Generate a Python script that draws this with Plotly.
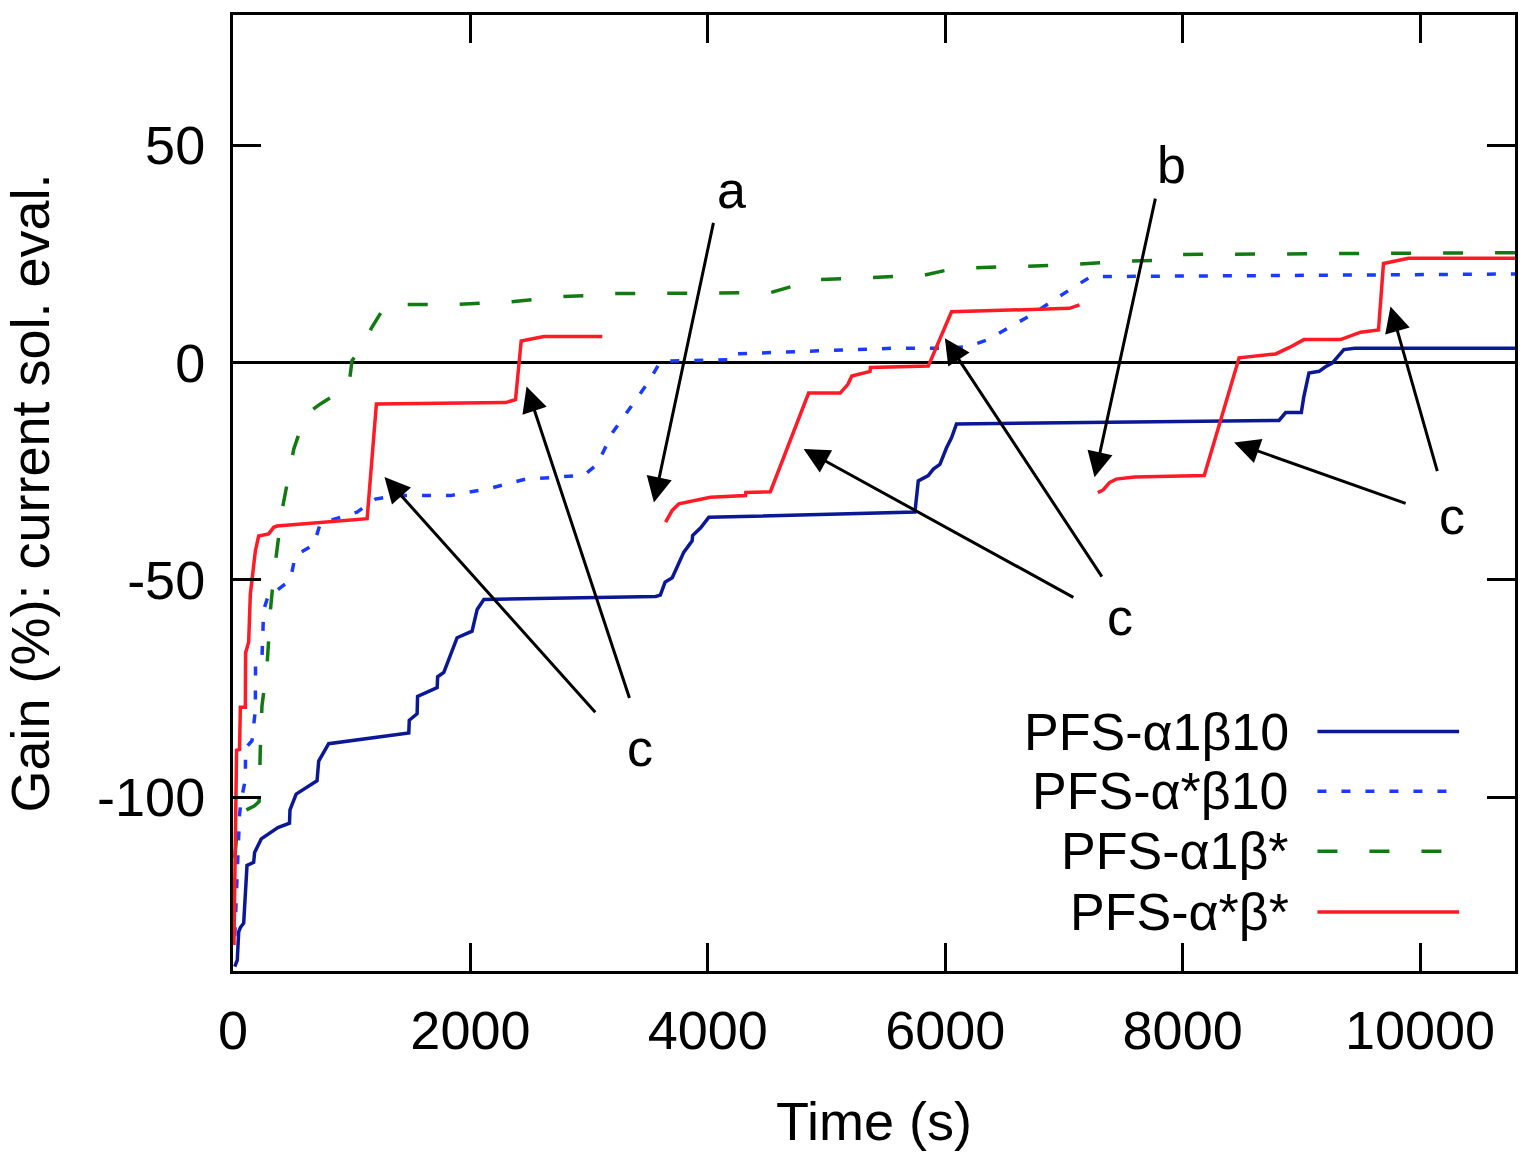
import plotly.graph_objects as go

# ---------------- data ----------------
x_a1b10 = [15, 36, 48, 62, 90, 112, 118, 174, 182, 238, 378, 476, 480, 532, 708, 722, 806,
           1481, 1485, 1551, 1555, 1720, 1724, 1776, 1888, 2014, 2057, 2113, 3560, 3600, 3640,
           3700, 3770, 3798, 3868, 3872, 3940, 4008, 5745, 5760, 5773, 5857, 5900, 5955, 6011,
           6053, 6095, 8812, 8868, 9000, 9020, 9064, 9150, 9200, 9260, 9358, 9450, 10800]
y_a1b10 = [-139, -137.5, -131, -130, -129, -116, -115.7, -115, -112.7, -109.6, -107, -106,
           -102.9, -99.3, -96.2, -91.7, -87.7, -85.2, -82.3, -80.8, -76.8, -74.8, -72.3, -71.3,
           -63.3, -61.8, -56.8, -54.5, -53.8, -53.5, -50.5, -49.5, -45.5, -43.6, -41, -39.8,
           -38, -35.6, -34.4, -30, -27.2, -26.0, -24.5, -23.4, -19.6, -17.3, -14.1, -13.3,
           -11.5, -11.5, -8, -2.4, -2, -1, -0.1, 3.0, 3.3, 3.3]

x_asb10 = [15, 30, 40, 55, 70, 104, 106, 160, 188, 190, 244, 258, 300, 343, 483, 525, 680, 736,
           1045, 1200, 1383, 1832, 2169, 2450, 2956, 3068, 3200, 3406, 3504, 3602, 4190, 4204,
           5549, 6011, 6193, 6361, 6725, 7090, 7227, 8500, 10800]
y_asb10 = [-132, -121, -113, -104, -100.5, -96, -88.7, -87, -80, -69, -68, -57, -53.3, -53,
           -50, -44.4, -41.9, -37, -34.4, -31.4, -30.6, -30.6, -28.9, -26.9, -25.9, -23.4, -16,
           -8, -4.3, 0.3, 0.7, 2.0, 3.3, 3.3, 3.7, 5.3, 11, 17.5, 19.8, 20.0, 20.4]

x_a1bs = [15, 40, 70, 182, 220, 225, 230, 244, 286, 300, 315, 343, 371, 413, 441, 511, 610,
          736, 975, 1003, 1109, 1165, 1289, 1893, 2342, 2762, 3126, 3196, 4527, 4793, 4849,
          5815, 6081, 6599, 6950, 7552, 7846, 7986, 10800]
y_a1bs = [-114, -106, -103.5, -102, -101, -94, -89, -79, -70, -64, -57, -49, -43, -34, -30,
          -20, -12, -9.5, -5.5, 0.5, 4.1, 7.9, 13.4, 13.4, 14.0, 15.2, 15.6, 15.9, 16.1, 18.2,
          19.0, 20.1, 21.7, 22.2, 22.4, 23.4, 23.6, 24.9, 25.3]

# PFS-a*b* is made of three separate runs (None = gap)
x_asbs = [8, 18, 30, 55, 62, 104, 106, 132, 146, 188, 216, 300, 343, 371, 1130, 1208, 2296,
          2380, 2428, 2619, 3111, None,
          3644, 3700, 3756, 3882, 4022, 4317, 4320, 4527, 4849, 5115, 5180, 5213, 5367, 5370,
          5857, 6053, 6599, 7047, 7131, None,
          7286, 7330, 7384, 7440, 7594, 8182, 8476, 8784, 8900, 9022, 9330, 9500, 9650, 9692,
          9902, 10800]
y_asbs = [-134, -110, -89.2, -89, -79.3, -79.3, -66.8, -64.3, -53.3, -43.4, -39.9, -39.4,
          -37.9, -37.6, -35.9, -9.5, -9.2, -8.5, 5.0, 6.0, 6.0, None,
          -36.7, -34, -32.5, -31.8, -31.0, -30.6, -29.9, -29.7, -7.0, -7.0, -5, -3.1, -2.0,
          -1.1, -0.8, 11.7, 12.1, 12.5, 13.3, None,
          -29.9, -29.3, -27.6, -26.8, -26.3, -26.0, 1.1, 2.0, 3.5, 5.3, 5.3, 7.0, 7.5, 22.8,
          24.0, 24.0]

series_names = ["PFS-α1β10", "PFS-α*β10", "PFS-α1β*", "PFS-α*β*"]
series_colors = ["#0a1896", "#1a3bff", "#127a12", "#ff1a26"]
series_dash = ["solid", "9px,15px", "20px,32px", "solid"]

x_ticks = [0, 2000, 4000, 6000, 8000, 10000]
x_ticktext = ["0", "2000", "4000", "6000", "8000", "10000"]
y_ticks = [-100, -50, 0, 50]
y_ticktext = ["-100", "-50", "0", "50"]

# annotation labels: (text, x, y)
labels = [("a", 4202, 39.7), ("b", 7908, 45.4), ("c", 3429, -88.6),
          ("c", 7471, -58.6), ("c", 10269, -35.2)]
# arrows: (tail x, tail y, head x, head y)
arrows = [(4050, 32.5, 3546, -32.2),
          (7773, 38.1, 7258, -26.4),
          (3063, -80.8, 1276, -26.3),
          (3344, -77.5, 2473, -5.5),
          (7092, -54.2, 4807, -19.9),
          (7328, -49.6, 5997, 5.6),
          (9891, -32.5, 8434, -18.4),
          (10149, -25.3, 9751, 12.9)]

FONT = "Liberation Sans, Arial, sans-serif"
FS = 52
FS_AX = 54

fig = go.Figure()
all_x = [x_a1b10, x_asb10, x_a1bs, x_asbs]
all_y = [y_a1b10, y_asb10, y_a1bs, y_asbs]
for xs, ys, nm, col, dsh in zip(all_x, all_y, series_names, series_colors, series_dash):
    fig.add_trace(go.Scatter(x=xs, y=ys, name=nm, mode="lines", connectgaps=False,
                             line=dict(color=col, width=3.5, dash=dsh), showlegend=False))

axis_common = dict(showline=True, linecolor="black", linewidth=3, mirror="ticks",
                   ticks="inside", ticklen=28, tickwidth=3, tickcolor="black",
                   showgrid=False, tickfont=dict(family=FONT, size=FS_AX, color="black"))

fig.update_layout(
    width=1530, height=1158,
    margin=dict(l=233, r=12, t=13, b=187),
    plot_bgcolor="white", paper_bgcolor="white",
    font=dict(family=FONT, size=FS, color="black"),
    xaxis=dict(range=[0, 10800], tickvals=x_ticks, ticktext=x_ticktext, zeroline=False,
               ticklabelstandoff=10,
               title=dict(text="Time (s)", font=dict(family=FONT, size=FS_AX), standoff=44),
               **axis_common),
    yaxis=dict(range=[-140, 80], tickvals=y_ticks, ticktext=y_ticktext, zeroline=True,
               zerolinecolor="black", zerolinewidth=3, ticklabelstandoff=14,
               title=dict(text="Gain (%): current sol. eval.", font=dict(family=FONT, size=FS_AX),
                          standoff=38),
               **axis_common),
)

for tx, ty, hx, hy in arrows:
    fig.add_annotation(x=hx, y=hy, ax=tx, ay=ty, xref="x", yref="y", axref="x", ayref="y",
                       text="", showarrow=True, arrowhead=2, arrowsize=1.7, arrowwidth=3,
                       arrowcolor="black", standoff=0, startstandoff=0)
for t, lx, ly in labels:
    fig.add_annotation(x=lx, y=ly, xref="x", yref="y", text=t, showarrow=False,
                       font=dict(family=FONT, size=FS, color="black"))

# manual legend (text on the left, sample on the right)
leg_y = [0.2505, 0.1879, 0.1253, 0.0616]
for nm, col, dsh, yy in zip(series_names, series_colors, series_dash, leg_y):
    fig.add_annotation(x=0.8249, y=yy, xref="paper", yref="paper", text=nm, showarrow=False,
                       xanchor="right", yanchor="middle",
                       font=dict(family=FONT, size=FS, color="black"))
    fig.add_shape(type="line", xref="paper", yref="paper", x0=0.8459, x1=0.9564, y0=yy, y1=yy,
                  line=dict(color=col, width=3.5, dash=dsh))

fig.write_html("out.html")
